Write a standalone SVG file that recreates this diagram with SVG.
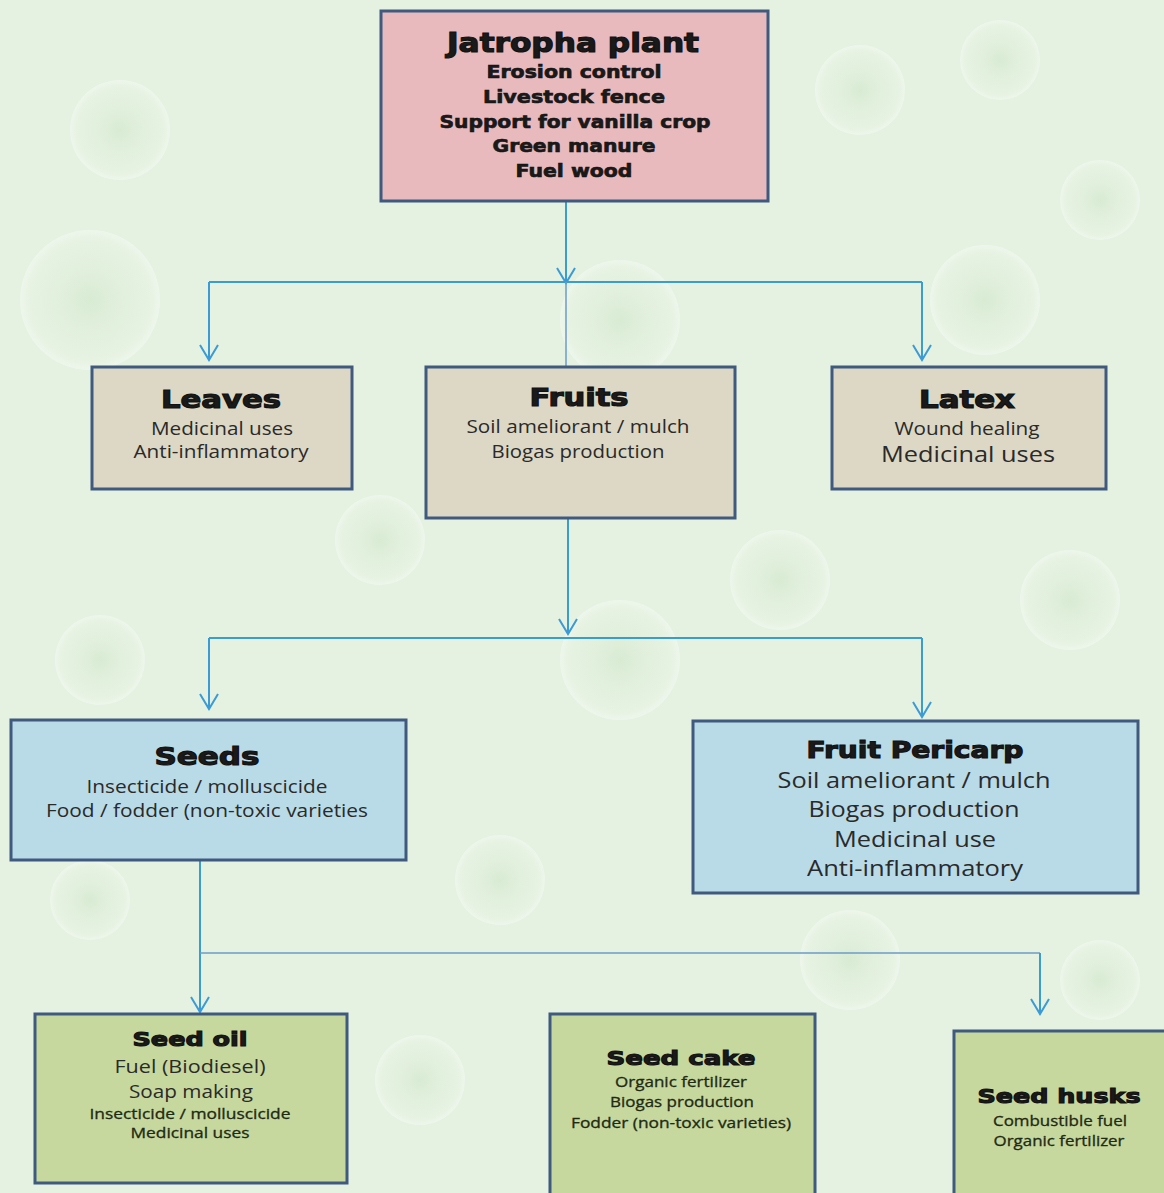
<svg xmlns="http://www.w3.org/2000/svg" width="1164" height="1193" viewBox="0 0 1164 1193">
<defs>
<radialGradient id="bub" cx="50%" cy="50%" r="50%">
<stop offset="0" stop-color="#d2e8cc" stop-opacity="0.7"/>
<stop offset="0.8" stop-color="#e6f2e2" stop-opacity="0.3"/>
<stop offset="1" stop-color="#f4faf2" stop-opacity="0.6"/>
</radialGradient>
<marker id="arrd" viewBox="0 0 20 20" refX="18" refY="10" markerWidth="20" markerHeight="20" markerUnits="userSpaceOnUse" orient="auto">
<path d="M3,1 L18,10 L3,19" fill="none" stroke="#3a9bd5" stroke-width="2"/>
</marker>
</defs>
<style>
.box{stroke:#3f5a7e;stroke-width:3}
.pink{fill:#e8b9bd}
.tan{fill:#ddd8c5}
.blue{fill:#b9dbe7}
.green{fill:#c6d89e}
.conn{fill:none;stroke:#3a9bd5;stroke-width:2}
.thin{fill:none;stroke:#6a9cc8;stroke-width:1.5}
text{text-anchor:middle;fill:#1a1a1a}
.t{font-family:"DejaVu Sans","Liberation Sans",sans-serif;font-weight:bold;stroke:#111;stroke-width:1.1}
.b{font-family:"DejaVu Sans","Liberation Sans",sans-serif;font-weight:bold;stroke:#111;stroke-width:0.6}
.r{font-family:"Open Sans","Noto Sans",sans-serif;fill:#2a2a2a}
.s{font-family:"Open Sans","Noto Sans",sans-serif;fill:#1e2a14;stroke:#1e2a14;stroke-width:0.3}
</style>
<rect width="1164" height="1193" fill="#e5f1e1"/>
<g id="bubbles">
<circle cx="120" cy="130" r="50" fill="url(#bub)"/>
<circle cx="860" cy="90" r="45" fill="url(#bub)"/>
<circle cx="1000" cy="60" r="40" fill="url(#bub)"/>
<circle cx="90" cy="300" r="70" fill="url(#bub)"/>
<circle cx="620" cy="320" r="60" fill="url(#bub)"/>
<circle cx="985" cy="300" r="55" fill="url(#bub)"/>
<circle cx="1100" cy="200" r="40" fill="url(#bub)"/>
<circle cx="380" cy="540" r="45" fill="url(#bub)"/>
<circle cx="780" cy="580" r="50" fill="url(#bub)"/>
<circle cx="620" cy="660" r="60" fill="url(#bub)"/>
<circle cx="100" cy="660" r="45" fill="url(#bub)"/>
<circle cx="1070" cy="600" r="50" fill="url(#bub)"/>
<circle cx="500" cy="880" r="45" fill="url(#bub)"/>
<circle cx="90" cy="900" r="40" fill="url(#bub)"/>
<circle cx="850" cy="960" r="50" fill="url(#bub)"/>
<circle cx="1100" cy="980" r="40" fill="url(#bub)"/>
<circle cx="420" cy="1080" r="45" fill="url(#bub)"/>
</g>
<g id="connectors">
<path class="conn" d="M566,201 V283" marker-end="url(#arrd)"/>
<path class="conn" d="M209,282 H922"/>
<path class="conn" d="M209,282 V360" marker-end="url(#arrd)"/>
<path class="conn" d="M922,282 V360" marker-end="url(#arrd)"/>
<path class="thin" d="M566,282 V366"/>
<path class="conn" d="M568,518 V634" marker-end="url(#arrd)"/>
<path class="conn" d="M209,638 H922"/>
<path class="conn" d="M209,638 V709" marker-end="url(#arrd)"/>
<path class="conn" d="M922,638 V717" marker-end="url(#arrd)"/>
<path class="conn" d="M200,860 V1012" marker-end="url(#arrd)"/>
<path class="thin" d="M200,953 H1040"/>
<path class="conn" d="M1040,953 V1014" marker-end="url(#arrd)"/>
</g>
<g id="jatropha">
<rect class="box pink" x="381" y="11" width="387" height="190"/>
<text class="t" x="573" y="52" font-size="26" textLength="252" lengthAdjust="spacingAndGlyphs">Jatropha plant</text>
<text class="b" x="574" y="78" font-size="17" textLength="175" lengthAdjust="spacingAndGlyphs">Erosion control</text>
<text class="b" x="574" y="103" font-size="17" textLength="182" lengthAdjust="spacingAndGlyphs">Livestock fence</text>
<text class="b" x="575" y="128" font-size="17" textLength="271" lengthAdjust="spacingAndGlyphs">Support for vanilla crop</text>
<text class="b" x="574" y="152" font-size="17" textLength="163" lengthAdjust="spacingAndGlyphs">Green manure</text>
<text class="b" x="574" y="177" font-size="17" textLength="117" lengthAdjust="spacingAndGlyphs">Fuel wood</text>
</g>
<g id="leaves">
<rect class="box tan" x="92" y="367" width="260" height="122"/>
<text class="t" x="221" y="408" font-size="24" textLength="120" lengthAdjust="spacingAndGlyphs">Leaves</text>
<text class="r" x="222" y="435" font-size="18" textLength="142" lengthAdjust="spacingAndGlyphs">Medicinal uses</text>
<text class="r" x="221" y="458" font-size="18" textLength="175" lengthAdjust="spacingAndGlyphs">Anti-inflammatory</text>
</g>
<g id="fruits">
<rect class="box tan" x="426" y="367" width="309" height="151"/>
<text class="t" x="579" y="406" font-size="24" textLength="99" lengthAdjust="spacingAndGlyphs">Fruits</text>
<text class="r" x="578" y="433" font-size="18" textLength="223" lengthAdjust="spacingAndGlyphs">Soil ameliorant / mulch</text>
<text class="r" x="578" y="458" font-size="18" textLength="173" lengthAdjust="spacingAndGlyphs">Biogas production</text>
</g>
<g id="latex">
<rect class="box tan" x="832" y="367" width="274" height="122"/>
<text class="t" x="967" y="408" font-size="24" textLength="96" lengthAdjust="spacingAndGlyphs">Latex</text>
<text class="r" x="967" y="435" font-size="18" textLength="145" lengthAdjust="spacingAndGlyphs">Wound healing</text>
<text class="r" x="968" y="462" font-size="22" textLength="174" lengthAdjust="spacingAndGlyphs">Medicinal uses</text>
</g>
<g id="seeds">
<rect class="box blue" x="11" y="720" width="395" height="140"/>
<text class="t" x="207" y="765" font-size="24" textLength="105" lengthAdjust="spacingAndGlyphs">Seeds</text>
<text class="r" x="207" y="793" font-size="18" textLength="241" lengthAdjust="spacingAndGlyphs">Insecticide / molluscicide</text>
<text class="r" x="207" y="817" font-size="18" textLength="322" lengthAdjust="spacingAndGlyphs">Food / fodder (non-toxic varieties</text>
</g>
<g id="pericarp">
<rect class="box blue" x="693" y="721" width="445" height="172"/>
<text class="t" x="915" y="758" font-size="23" textLength="217" lengthAdjust="spacingAndGlyphs">Fruit Pericarp</text>
<text class="r" x="914" y="788" font-size="22" textLength="273" lengthAdjust="spacingAndGlyphs">Soil ameliorant / mulch</text>
<text class="r" x="914" y="817" font-size="22" textLength="211" lengthAdjust="spacingAndGlyphs">Biogas production</text>
<text class="r" x="915" y="847" font-size="22" textLength="162" lengthAdjust="spacingAndGlyphs">Medicinal use</text>
<text class="r" x="915" y="876" font-size="22" textLength="216" lengthAdjust="spacingAndGlyphs">Anti-inflammatory</text>
</g>
<g id="seedoil">
<rect class="box green" x="35" y="1014" width="312" height="169"/>
<text class="t" x="190" y="1046" font-size="20" textLength="115" lengthAdjust="spacingAndGlyphs">Seed oil</text>
<text class="r" x="190" y="1073" font-size="18" textLength="151" lengthAdjust="spacingAndGlyphs">Fuel (Biodiesel)</text>
<text class="r" x="191" y="1098" font-size="19" textLength="124" lengthAdjust="spacingAndGlyphs">Soap making</text>
<text class="s" x="190" y="1119" font-size="14" textLength="201" lengthAdjust="spacingAndGlyphs">Insecticide / molluscicide</text>
<text class="s" x="190" y="1138" font-size="14" textLength="119" lengthAdjust="spacingAndGlyphs">Medicinal uses</text>
</g>
<g id="seedcake">
<rect class="box green" x="550" y="1014" width="265" height="185"/>
<text class="t" x="681" y="1065" font-size="20" textLength="149" lengthAdjust="spacingAndGlyphs">Seed cake</text>
<text class="s" x="681" y="1087" font-size="14" textLength="132" lengthAdjust="spacingAndGlyphs">Organic fertilizer</text>
<text class="s" x="682" y="1107" font-size="14" textLength="144" lengthAdjust="spacingAndGlyphs">Biogas production</text>
<text class="s" x="681" y="1128" font-size="14" textLength="220" lengthAdjust="spacingAndGlyphs">Fodder (non-toxic varieties)</text>
</g>
<g id="seedhusks">
<rect class="box green" x="954" y="1031" width="215" height="170"/>
<text class="t" x="1059" y="1103" font-size="20" textLength="163" lengthAdjust="spacingAndGlyphs">Seed husks</text>
<text class="s" x="1060" y="1126" font-size="14" textLength="134" lengthAdjust="spacingAndGlyphs">Combustible fuel</text>
<text class="s" x="1059" y="1146" font-size="14" textLength="131" lengthAdjust="spacingAndGlyphs">Organic fertilizer</text>
</g>
</svg>
